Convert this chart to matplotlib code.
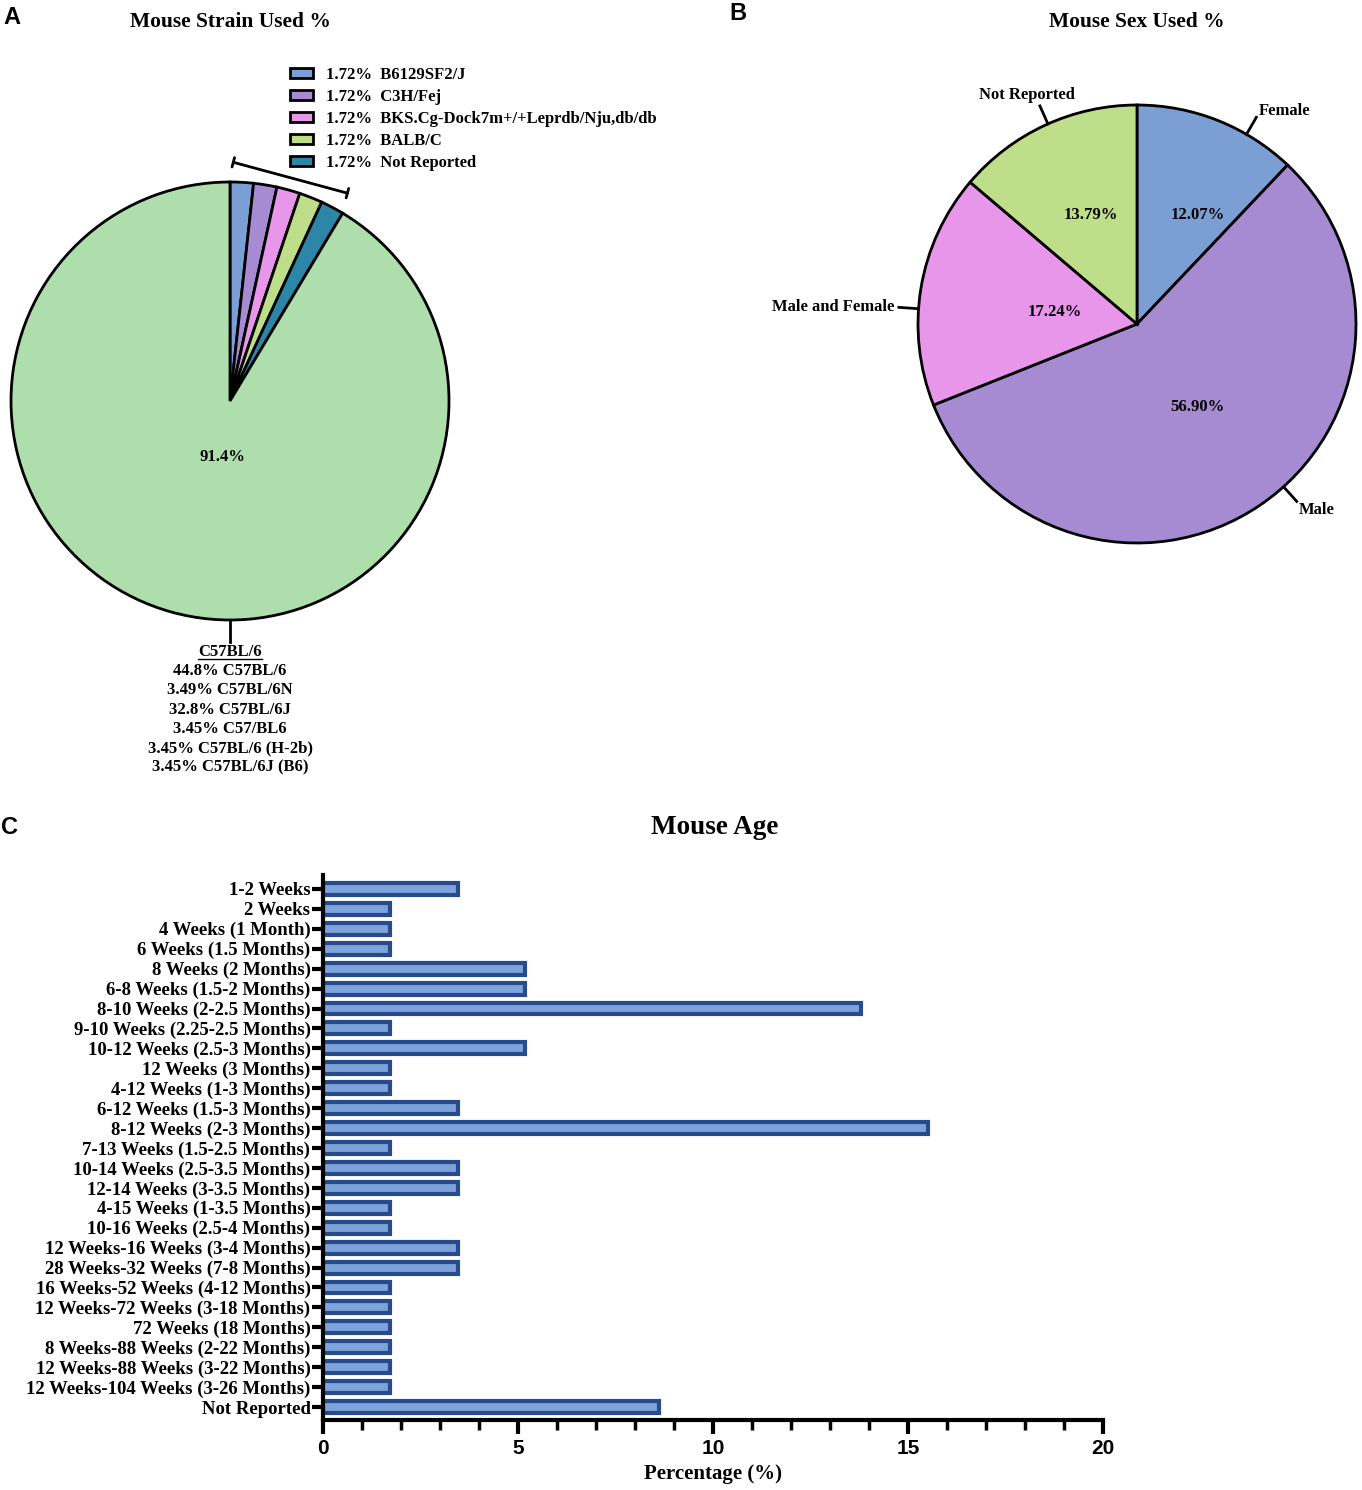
import numpy as np
import matplotlib
matplotlib.use("Agg")
import matplotlib.pyplot as plt
from matplotlib.lines import Line2D

plt.rcParams['font.family'] = ['Liberation Serif', 'DejaVu Serif']
plt.rcParams['font.weight'] = 'bold'

# ---- data ----
strain_names = ['B6129SF2/J', 'C3H/Fej', 'BKS.Cg-Dock7m+/+Leprdb/Nju,db/db',
                'BALB/C', 'Not Reported', 'C57BL/6']
strain_pct = [1.72, 1.72, 1.72, 1.72, 1.72, 91.4]
c57_names = ['C57BL/6', 'C57BL/6N', 'C57BL/6J', 'C57/BL6', 'C57BL/6 (H-2b)', 'C57BL/6J (B6)']
c57_pct = [44.8, 3.49, 32.8, 3.45, 3.45, 3.45]

sex_names = ['Female', 'Male', 'Male and Female', 'Not Reported']
sex_pct = [12.07, 56.90, 17.24, 13.79]

age_labels = ['1-2 Weeks', '2 Weeks', '4 Weeks (1 Month)', '6 Weeks (1.5 Months)',
              '8 Weeks (2 Months)', '6-8 Weeks (1.5-2 Months)', '8-10 Weeks (2-2.5 Months)',
              '9-10 Weeks (2.25-2.5 Months)', '10-12 Weeks (2.5-3 Months)', '12 Weeks (3 Months)',
              '4-12 Weeks (1-3 Months)', '6-12 Weeks (1.5-3 Months)', '8-12 Weeks (2-3 Months)',
              '7-13 Weeks (1.5-2.5 Months)', '10-14 Weeks (2.5-3.5 Months)',
              '12-14 Weeks (3-3.5 Months)', '4-15 Weeks (1-3.5 Months)',
              '10-16 Weeks (2.5-4 Months)', '12 Weeks-16 Weeks (3-4 Months)',
              '28 Weeks-32 Weeks (7-8 Months)', '16 Weeks-52 Weeks (4-12 Months)',
              '12 Weeks-72 Weeks (3-18 Months)', '72 Weeks (18 Months)',
              '8 Weeks-88 Weeks (2-22 Months)', '12 Weeks-88 Weeks (3-22 Months)',
              '12 Weeks-104 Weeks (3-26 Months)', 'Not Reported']
age_pct = [3.45, 1.72, 1.72, 1.72, 5.17, 5.17, 13.79, 1.72, 5.17, 1.72, 1.72, 3.45, 15.52,
           1.72, 3.45, 3.45, 1.72, 1.72, 3.45, 3.45, 1.72, 1.72, 1.72, 1.72, 1.72, 1.72, 8.62]

strain_colors = ['#7b9fd4', '#a68ad2', '#e896ea', '#bfde89', '#2b86a8', '#aedeac']
sex_colors = ['#7b9fd4', '#a68ad2', '#e896ea', '#bfde89']
bar_face = '#7ea2da'
bar_edge = '#284b8c'

# label placement (angle in degrees, radius in pie units)
strain_big_pos = (-98, 0.26)
sex_pct_pos = [(61, 0.57), (-54, 0.47), (172, 0.38), (113, 0.54)]
sex_leader_ang = [60, -48, 176, 114]

W, H = 1362, 1490
fig = plt.figure(figsize=(W / 100, H / 100), dpi=100)
R = 219  # pie radius in px
FS = 12


def pie_axes(cx, cy, half=300):
    ax = fig.add_axes([(cx - half) / W, 1 - (cy + half) / H, 2 * half / W, 2 * half / H])
    return ax


def fx(x):
    return x / W


def fy(y):
    return 1 - y / H


# ---- panel A ----
axA = pie_axes(230, 401)
wedgesA, _, autoA = axA.pie(strain_pct, colors=strain_colors, startangle=90, counterclock=False,
                            radius=1, wedgeprops=dict(edgecolor='black', linewidth=2),
                            autopct=lambda p: f'{p:.1f}%' if p > 50 else '',
                            textprops=dict(fontsize=FS, fontweight='bold'))
lim = 300 / R
axA.set_xlim(-lim, lim)
axA.set_ylim(-lim, lim)
axA.set_aspect('equal')
axA.axis('off')
a = np.deg2rad(strain_big_pos[0])
autoA[-1].set_position((strain_big_pos[1] * np.cos(a), strain_big_pos[1] * np.sin(a)))

# bracket over small slices
a1 = np.deg2rad(wedgesA[0].theta2)
a2 = np.deg2rad(wedgesA[4].theta1 + 1.5)
rb = 1.09
axA.annotate('', xy=(rb * np.cos(a1) + 0.015, rb * np.sin(a1)),
             xytext=(rb * np.cos(a2), rb * np.sin(a2)),
             arrowprops=dict(arrowstyle='|-|, widthA=0.35, widthB=0.35', lw=2, color='black',
                             shrinkA=0, shrinkB=0), annotation_clip=False)

legA = axA.legend(wedgesA[:5], [f'{v:.2f}%  {n}' for v, n in zip(strain_pct[:5], strain_names[:5])],
                  loc='upper left', bbox_to_anchor=(fx(290), fy(67)), bbox_transform=fig.transFigure,
                  frameon=False, fontsize=FS, handlelength=1.35, handleheight=0.6,
                  handletextpad=0.8, labelspacing=0.36, borderpad=0, borderaxespad=0)
for t in legA.get_texts():
    t.set_fontweight('bold')

# C57 leader and breakdown
axA.plot([0, 0], [-1, -1.1], color='black', lw=2, clip_on=False)
y0 = 401 + R + 32
head = fig.text(fx(230), fy(y0), c57_names[0], ha='center', va='center', fontsize=FS,
                fontweight='bold')
for i, (v, n) in enumerate(zip(c57_pct, c57_names)):
    fig.text(fx(230), fy(y0 + 19.2 * (i + 1)), f'{v}% {n}', ha='center', va='center',
             fontsize=FS, fontweight='bold')

fig.text(fx(230), fy(22), 'Mouse Strain Used %', ha='center', va='center', fontsize=15.5,
         fontweight='bold')

# ---- panel B ----
axB = pie_axes(1137, 324)
wedgesB, _, autoB = axB.pie(sex_pct, colors=sex_colors, startangle=90, counterclock=False,
                            radius=1, wedgeprops=dict(edgecolor='black', linewidth=2),
                            autopct='%.2f%%', textprops=dict(fontsize=FS, fontweight='bold'))
axB.set_xlim(-lim, lim)
axB.set_ylim(-lim, lim)
axB.set_aspect('equal')
axB.axis('off')
for t, (ang, d) in zip(autoB, sex_pct_pos):
    a = np.deg2rad(ang)
    t.set_position((d * np.cos(a), d * np.sin(a)))

for n, ang in zip(sex_names, sex_leader_ang):
    a = np.deg2rad(ang)
    c, s = np.cos(a), np.sin(a)
    axB.plot([c, 1.09 * c], [s, 1.09 * s], color='black', lw=2, clip_on=False)
    if c > 0.1:
        ha, va, off = 'left', 'center', (0.01, -0.04 if s < 0 else 0.03)
    elif c < -0.5:
        ha, va, off = 'right', 'center', (-0.02, 0)
    else:
        ha, va, off = 'center', 'bottom', (-0.06, 0.015)
    axB.text(1.09 * c + off[0], 1.09 * s + off[1], n, ha=ha, va=va, fontsize=FS,
             fontweight='bold')

fig.text(fx(1137), fy(22), 'Mouse Sex Used %', ha='center', va='center', fontsize=15.5,
         fontweight='bold')

# ---- panel C ----
axC = fig.add_axes([fx(323), fy(1420), 780 / W, 545 / H])
ypos = np.arange(len(age_labels))
axC.barh(ypos, age_pct, height=0.6, color=bar_face, edgecolor=bar_edge, linewidth=3)
axC.set_ylim(len(age_labels) - 1 + 0.65, -0.7)
axC.set_xlim(0, 20)
axC.set_yticks(ypos)
axC.set_yticklabels(age_labels, fontsize=13.5, fontweight='bold')
axC.set_xticks([0, 5, 10, 15, 20])
axC.set_xticks(np.arange(0, 21, 1), minor=True)
axC.set_xticklabels(['0', '5', '10', '15', '20'], fontsize=15, fontweight='bold',
                    family=['Liberation Sans Narrow', 'Liberation Sans'])
for sp in ['top', 'right']:
    axC.spines[sp].set_visible(False)
for sp in ['left', 'bottom']:
    axC.spines[sp].set_linewidth(3)
axC.tick_params(axis='y', length=8, width=3, pad=1)
axC.tick_params(axis='x', which='major', length=10, width=3, pad=4)
axC.tick_params(axis='x', which='minor', length=7, width=2.5)
axC.set_xlabel('Percentage (%)', fontsize=15, fontweight='bold', labelpad=4)
fig.text(fx(715), fy(828), 'Mouse Age', ha='center', va='center', fontsize=19.5,
         fontweight='bold')

# panel letters
for letter, x, y in [('A', 12, 17), ('B', 738, 14), ('C', 10, 827)]:
    fig.text(fx(x), fy(y), letter, ha='center', va='center', fontsize=17, fontweight='bold',
             family=['Liberation Sans', 'DejaVu Sans'])

# underline the C57BL/6 heading
fig.canvas.draw()
bb = head.get_window_extent(fig.canvas.get_renderer())
fig.add_artist(Line2D([bb.x0 / W, bb.x1 / W], [(bb.y0 + 1) / H, (bb.y0 + 1) / H],
                      transform=fig.transFigure, color='black', lw=1))

fig.savefig('out.png', dpi=100)
